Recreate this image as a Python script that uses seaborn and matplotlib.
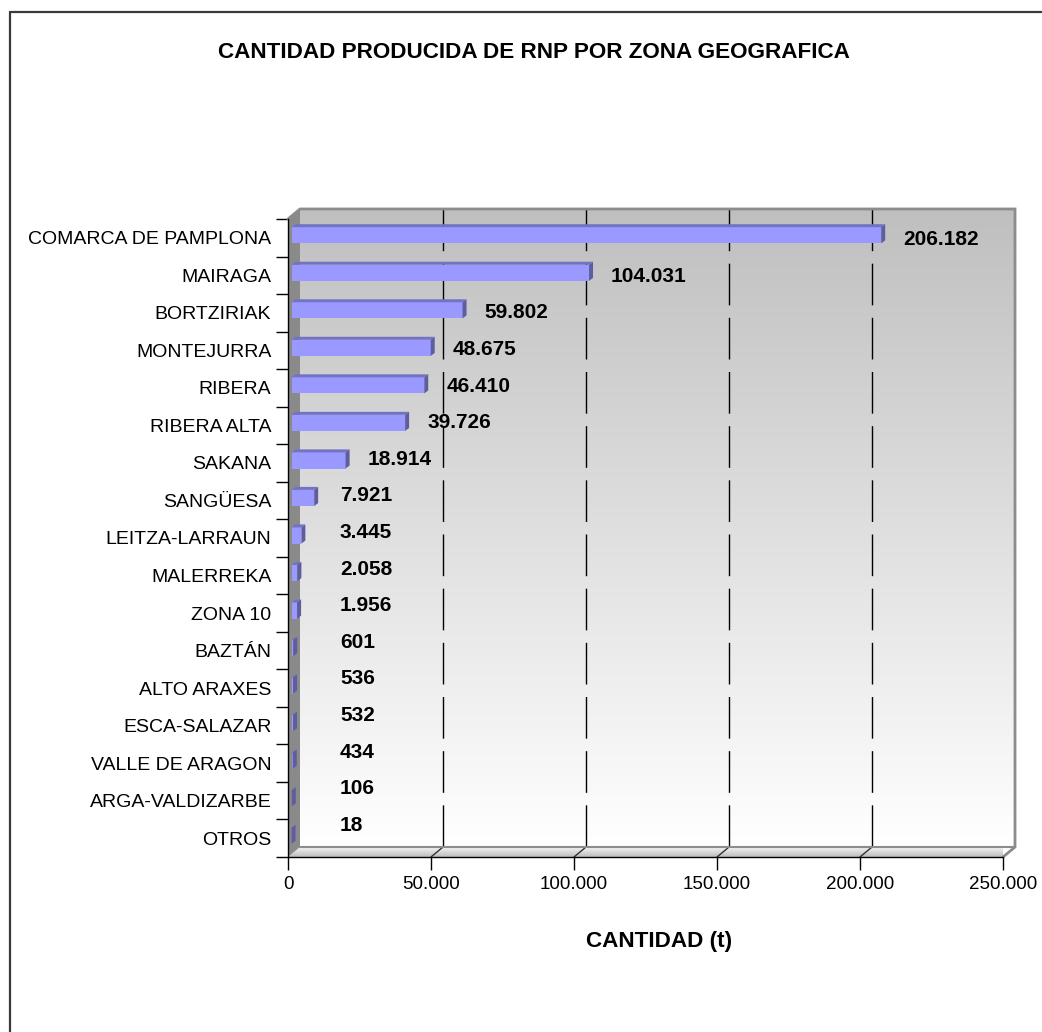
import numpy as np
import pandas as pd
import seaborn as sns
from matplotlib import pyplot as plt
from matplotlib.patches import Polygon
from matplotlib.lines import Line2D

# datos
zonas = ["COMARCA DE PAMPLONA", "MAIRAGA", "BORTZIRIAK", "MONTEJURRA", "RIBERA",
         "RIBERA ALTA", "SAKANA", "SANGÜESA", "LEITZA-LARRAUN", "MALERREKA",
         "ZONA 10", "BAZTÁN", "ALTO ARAXES", "ESCA-SALAZAR", "VALLE DE ARAGON",
         "ARGA-VALDIZARBE", "OTROS"]
cantidades = [206182, 104031, 59802, 48675, 46410, 39726, 18914, 7921, 3445,
              2058, 1956, 601, 536, 532, 434, 106, 18]
ticks_x = [0, 50000, 100000, 150000, 200000, 250000]

titulo = "CANTIDAD PRODUCIDA DE RNP POR ZONA GEOGRAFICA"
etiqueta_x = "CANTIDAD (t)"


def miles(v):
    return f"{v:,}".replace(",", ".")


sns.set_theme(style="white")
plt.rcParams["font.family"] = ["Liberation Sans", "DejaVu Sans"]
plt.rcParams["text.color"] = "black"
plt.rcParams["xtick.color"] = "black"
plt.rcParams["ytick.color"] = "black"
plt.rcParams["axes.labelcolor"] = "black"

W, H = 1042, 1032
fig = plt.figure(figsize=(W / 100, H / 100), dpi=100)
fig.patch.set_facecolor("white")

# plano frontal del grafico en pixeles
left, right, top, bottom = 288, 1003, 219, 857
ax = fig.add_axes([left / W, (H - bottom) / H, (right - left) / W, (bottom - top) / H])
ax.patch.set_alpha(0)

df = pd.DataFrame({"zona": zonas, "cantidad": cantidades})
sns.barplot(data=df, x="cantidad", y="zona", orient="h", color="#9999FF",
            saturation=1, width=0.43, linewidth=0, ax=ax, zorder=3)

n = len(zonas)
xmax = ticks_x[-1]
ax.set_xlim(0, xmax)
ax.set_ylim(n - 0.5, -0.5)
ax.autoscale(False)

# conversion pixel -> datos
sx = xmax / (right - left)
sy = n / (bottom - top)
dx, dy = 12 * sx, -10 * sy          # profundidad de las paredes
bx, by = 3.5 * sx, -2.5 * sy        # posicion de las barras en la profundidad
px, py = 4 * sx, -3 * sy            # grosor de las barras

y0, y1 = -0.5, n - 0.5

# pared del fondo con degradado
grad = np.linspace(0.75, 1.0, 256)[:, None]
grad = np.dstack([grad, grad, grad])
ax.imshow(grad, extent=(dx, xmax + dx, y1 + dy, y0 + dy), aspect="auto",
          zorder=0, clip_on=False, interpolation="bilinear")

# suelo
suelo = Polygon([(0, y1), (xmax, y1), (xmax + dx, y1 + dy), (dx, y1 + dy)],
                closed=True, facecolor="none", edgecolor="none", clip_on=False)
ax.add_patch(suelo)
gsuelo = np.linspace(0.96, 0.74, 64)[:, None]
gsuelo = np.dstack([gsuelo, gsuelo, gsuelo])
im = ax.imshow(gsuelo, extent=(0, xmax + dx, y1, y1 + dy), aspect="auto",
               zorder=0.5, clip_on=True, interpolation="bilinear")
im.set_clip_path(suelo)

# pared lateral
ax.add_patch(Polygon([(0, y0), (dx, y0 + dy), (dx, y1 + dy), (0, y1)], closed=True,
                     facecolor="#8A8A8A", edgecolor="none", zorder=1, clip_on=False))

# lineas de division en la pared y el suelo
for t in ticks_x[1:-1]:
    ax.plot([t + dx, t + dx], [y0 + dy, y1 + dy], color="black", lw=1,
            dashes=(30, 9), zorder=1, clip_on=False)
for t in ticks_x[1:]:
    ax.plot([t, t + dx], [y1, y1 + dy], color="#333333", lw=1, zorder=1, clip_on=False)

# bordes de las paredes
ax.plot([0, dx, xmax + dx, xmax + dx, xmax], [y0, y0 + dy, y0 + dy, y1 + dy, y1],
        color="#8C8C8C", lw=2, zorder=1, clip_on=False, solid_joinstyle="miter")
ax.plot([dx, xmax + dx], [y1 + dy, y1 + dy], color="#8C8C8C", lw=1.5, zorder=1,
        clip_on=False)

# barras en 3D: desplazar y anadir caras
for p, v in zip(ax.patches[:n], cantidades):
    p.set_x(p.get_x() + bx)
    p.set_y(p.get_y() + by)
    xa, xb = p.get_x(), p.get_x() + p.get_width()
    ya, yb = p.get_y(), p.get_y() + p.get_height()
    ax.add_patch(Polygon([(xa, ya), (xb, ya), (xb + px, ya + py), (xa + px, ya + py)],
                         closed=True, facecolor="#7373C4", edgecolor="none",
                         zorder=3, clip_on=False))
    ax.add_patch(Polygon([(xb, ya), (xb + px, ya + py), (xb + px, yb + py), (xb, yb)],
                         closed=True, facecolor="#5E5E9E", edgecolor="none",
                         zorder=3, clip_on=False))

# etiquetas de valor
for i, v in enumerate(cantidades):
    xt = max(v + bx + px + 18 * sx, 52 * sx)
    yt = i + (2 - 15 * i / (n - 1)) * sy
    ax.text(xt, yt, miles(v), ha="left", va="center", fontsize=15,
            fontweight="bold", color="black", zorder=5, clip_on=False)

# ejes
for s in ["top", "right"]:
    ax.spines[s].set_visible(False)
for s in ["left", "bottom"]:
    ax.spines[s].set_color("black")
    ax.spines[s].set_linewidth(1)
    ax.spines[s].set_zorder(4)

ax.set_xticks(ticks_x)
ax.set_xticklabels([miles(t) for t in ticks_x])
ax.tick_params(axis="x", direction="out", length=9, width=1, color="black",
               labelsize=13.5, pad=5, bottom=True)
ax.set_yticks(np.arange(-0.5, n, 1.0), minor=True)
ax.tick_params(axis="y", which="minor", direction="out", length=9, width=1,
               color="black", left=True)
ax.tick_params(axis="y", which="major", length=0, labelsize=14, pad=12)
ax.set_xlabel("")
ax.set_ylabel("")
ax.grid(False)

fig.text(534 / W, 1 - 52 / H, titulo, ha="center", va="center", fontsize=16.2,
         fontweight="bold")
fig.text(659 / W, 1 - 942 / H, etiqueta_x, ha="center", va="center", fontsize=16.2,
         fontweight="bold")

# marco exterior
fig.add_artist(Line2D([9.5 / W, 9.5 / W], [0, 1 - 11.5 / H], transform=fig.transFigure,
                      color="#3A3A3A", lw=1.6))
fig.add_artist(Line2D([9.5 / W, 1], [1 - 11.5 / H, 1 - 11.5 / H],
                      transform=fig.transFigure, color="#3A3A3A", lw=1.6))

fig.savefig("out.png", dpi=100)
plt.close(fig)
